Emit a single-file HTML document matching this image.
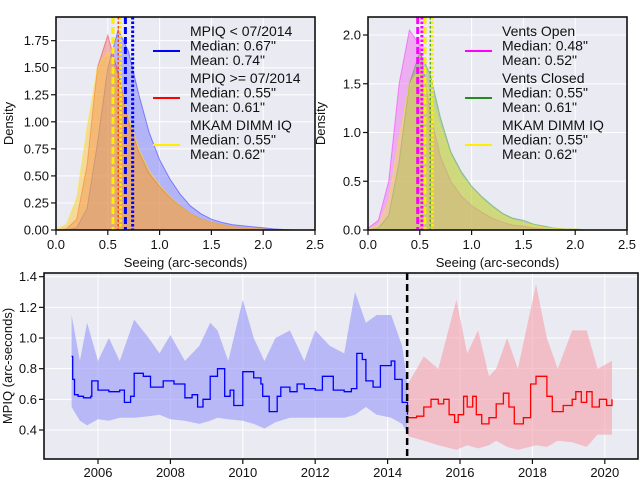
<!DOCTYPE html>
<html><head><meta charset="utf-8">
<style>
body{margin:0;background:#fff;}
svg{display:block;font-family:"Liberation Sans","DejaVu Sans",sans-serif;}
</style></head>
<body>
<svg id="fig" width="640" height="480" viewBox="0 0 640 480" xmlns="http://www.w3.org/2000/svg"></svg>
<script>
// ---------- data: KDE panels (x grid 0..2.5 step 0.1) ----------
const kdeX = [0,0.1,0.2,0.3,0.4,0.5,0.6,0.7,0.8,0.9,1.0,1.1,1.2,1.3,1.4,1.5,1.6,1.7,1.8,1.9,2.0,2.1,2.2,2.3,2.4,2.5];
const mpiqBefore = [0,0,0.02,0.2,0.8,1.5,1.85,1.65,1.25,0.9,0.65,0.47,0.33,0.22,0.15,0.10,0.07,0.05,0.04,0.03,0.02,0.01,0.005,0,0,0];
const mpiqAfter  = [0,0.01,0.1,0.6,1.5,1.8,1.45,1.0,0.72,0.52,0.4,0.3,0.22,0.15,0.1,0.07,0.05,0.03,0.02,0.01,0.01,0,0,0,0,0];
const dimm       = [0.01,0.05,0.3,0.95,1.5,1.65,1.4,1.05,0.75,0.55,0.42,0.31,0.22,0.15,0.1,0.07,0.05,0.03,0.02,0.01,0.01,0,0,0,0,0];
const ventsOpen  = [0.02,0.1,0.5,1.5,2.05,1.9,1.2,0.75,0.5,0.35,0.25,0.18,0.12,0.08,0.05,0.04,0.02,0.01,0,0,0,0,0,0,0,0];
const ventsClosed= [0,0.02,0.15,0.7,1.5,1.82,1.6,1.15,0.8,0.6,0.45,0.34,0.25,0.17,0.12,0.1,0.06,0.04,0.02,0.01,0.01,0,0,0,0,0];
const leftStats  = [[0.67,0.74],[0.55,0.61],[0.55,0.62]];
const rightStats = [[0.48,0.52],[0.55,0.61],[0.55,0.62]];
const leftTicksY = [0,0.25,0.5,0.75,1.0,1.25,1.5,1.75];
const leftTickLbl= ["0.00","0.25","0.50","0.75","1.00","1.25","1.50","1.75"];
const rightTicksY= [0,0.5,1.0,1.5,2.0];
const rightTickLbl=["0.0","0.5","1.0","1.5","2.0"];
const xTicks = [0,0.5,1.0,1.5,2.0,2.5];
const xTickLbl = ["0.0","0.5","1.0","1.5","2.0","2.5"];
// ---------- data: time series ----------
const blueT   = [2005.27,2005.3,2005.35,2005.45,2005.6,2005.8,2005.83,2006.0,2006.3,2006.6,2006.73,2006.9,2007.0,2007.25,2007.45,2007.7,2007.8,2008.1,2008.4,2008.6,2008.75,2008.9,2009.1,2009.3,2009.5,2009.65,2009.75,2009.95,2010.0,2010.3,2010.5,2010.55,2010.73,2010.95,2011.05,2011.3,2011.5,2011.7,2012.0,2012.2,2012.5,2012.8,2013.0,2013.15,2013.3,2013.4,2013.6,2013.8,2014.1,2014.2,2014.4,2014.55];
const blueMed = [0.88,0.73,0.63,0.62,0.61,0.62,0.72,0.66,0.65,0.66,0.58,0.62,0.77,0.75,0.68,0.68,0.72,0.70,0.61,0.63,0.55,0.60,0.75,0.80,0.62,0.66,0.56,0.56,0.78,0.74,0.70,0.62,0.52,0.62,0.68,0.65,0.70,0.67,0.66,0.75,0.66,0.65,0.67,0.90,0.86,0.72,0.68,0.82,0.85,0.73,0.58,0.50];
const blueBandT=[2005.27,2005.5,2005.7,2006.0,2006.3,2006.6,2007.0,2007.4,2007.7,2008.0,2008.4,2008.8,2009.1,2009.3,2009.6,2010.0,2010.3,2010.6,2010.9,2011.3,2011.7,2012.0,2012.4,2012.8,2013.1,2013.4,2013.7,2014.1,2014.4,2014.55];
const blueHi  = [1.15,0.85,1.1,0.85,1.0,0.85,1.12,1.0,0.9,1.02,0.85,0.95,1.1,1.05,0.85,1.25,1.0,0.85,1.0,1.05,0.85,1.05,0.95,0.9,1.3,1.1,1.15,1.15,0.95,0.7];
const blueLo  = [0.55,0.46,0.43,0.47,0.46,0.48,0.48,0.49,0.50,0.47,0.46,0.44,0.46,0.48,0.47,0.46,0.44,0.41,0.45,0.48,0.48,0.48,0.48,0.48,0.50,0.55,0.50,0.48,0.44,0.38];
const redT    = [2014.56,2014.8,2015.0,2015.2,2015.4,2015.55,2015.7,2015.85,2015.95,2016.1,2016.2,2016.35,2016.45,2016.6,2016.8,2017.0,2017.2,2017.35,2017.5,2017.75,2017.95,2018.1,2018.4,2018.55,2018.85,2019.1,2019.2,2019.35,2019.5,2019.65,2019.85,2020.05,2020.2];
const redMed  = [0.48,0.49,0.55,0.60,0.57,0.60,0.50,0.45,0.50,0.62,0.55,0.62,0.50,0.44,0.48,0.57,0.64,0.55,0.44,0.48,0.70,0.75,0.62,0.52,0.56,0.60,0.65,0.58,0.65,0.55,0.60,0.56,0.60];
const redBandT= [2014.56,2015.0,2015.4,2015.9,2016.2,2016.5,2016.8,2017.0,2017.3,2017.6,2018.1,2018.4,2018.7,2019.1,2019.5,2019.8,2020.2];
const redHi   = [0.70,0.88,0.80,1.25,0.90,1.05,0.75,0.80,1.00,0.80,1.35,1.00,0.80,1.05,1.05,0.80,0.85];
const redLo   = [0.36,0.33,0.30,0.27,0.30,0.28,0.30,0.33,0.29,0.27,0.30,0.29,0.33,0.32,0.29,0.37,0.37];
const yearTicks=[2006,2008,2010,2012,2014,2016,2018,2020];
const bottomTicksY=[0.4,0.6,0.8,1.0,1.2,1.4];
const bottomTickLbl=["0.4","0.6","0.8","1.0","1.2","1.4"];
const splitYear = 2014.54;

const NS="http://www.w3.org/2000/svg";
const svg=document.getElementById('fig');
function mk(tag,attrs,parent){const e=document.createElementNS(NS,tag);for(const k in attrs)e.setAttribute(k,attrs[k]);(parent||svg).appendChild(e);return e;}
function txt(s,attrs,parent){const e=mk('text',attrs,parent);e.textContent=s;return e;}

function panel(name,L,R,T,B,ymaxPx0,yScale,series,stats,colors,tickY,tickLbl,legendLabels){
  const g=mk('g',{});
  
  
  const sx=v=>L+(v/2.5)*(R-L);
  const sy=v=>B-v*yScale;
  const bg=mk('rect',{x:L,y:T,width:R-L,height:B-T,fill:'#eaeaf2'},g);
  
  
  xTicks.forEach(t=>{const l=mk('line',{x1:sx(t),x2:sx(t),y1:T,y2:B,stroke:'#fff','stroke-width':1},g);});
  tickY.forEach(t=>{const l=mk('line',{x1:L,x2:R,y1:sy(t),y2:sy(t),stroke:'#fff','stroke-width':1},g);});
  series.forEach((s,i)=>{
    let d='M'+sx(kdeX[0])+','+sy(0);
    kdeX.forEach((x,j)=>{d+=' L'+sx(x).toFixed(1)+','+sy(s[j]).toFixed(1);});
    d+=' L'+sx(kdeX[kdeX.length-1])+','+sy(0)+' Z';
    const p=mk('path',{d:d,fill:colors[i].fill,stroke:colors[i].line,'stroke-opacity':0.4,'stroke-width':1},g);
    
    
  });
  stats.forEach((st,i)=>{
    const a=mk('line',{x1:sx(st[0]),x2:sx(st[0]),y1:T,y2:B,stroke:colors[i].line,'stroke-width':3,'stroke-dasharray':'7,3'},g);
    
    
    const b=mk('line',{x1:sx(st[1]),x2:sx(st[1]),y1:T,y2:B,stroke:colors[i].line,'stroke-width':3,'stroke-dasharray':'2.5,2'},g);
    
    
  });
  const fr=mk('rect',{x:L,y:T,width:R-L,height:B-T,fill:'none',stroke:'#111','stroke-width':1.6},g);
  
  
  tickY.forEach((t,i)=>{
    mk('line',{x1:L-5,x2:L,y1:sy(t),y2:sy(t),stroke:'#111','stroke-width':1.2},g);
    const tl=txt(tickLbl[i],{x:L-7,y:sy(t)+4.5,'font-size':13,'text-anchor':'end',fill:'#111'},g);
    
    
  });
  xTicks.forEach((t,i)=>{
    mk('line',{x1:sx(t),x2:sx(t),y1:B,y2:B+5,stroke:'#111','stroke-width':1.2},g);
    const tl=txt(xTickLbl[i],{x:sx(t),y:B+19,'font-size':13,'text-anchor':'middle',fill:'#111'},g);
    
    
  });
  const xt=txt('Seeing (arc-seconds)',{x:(L+R)/2,y:B+37,'font-size':13,'text-anchor':'middle',fill:'#111'},g);
  
  
  const yt=txt('Density',{x:0,y:0,'font-size':13,'text-anchor':'middle',fill:'#111',transform:`translate(${L-43},${(T+B)/2}) rotate(-90)`},g);
  
  
  legendLabels.forEach((lab,i)=>{
    const y0=T+19+i*47;
    const le=mk('g',{},g);
    
    
    mk('line',{x1:L+97,x2:L+124,y1:y0+15,y2:y0+15,stroke:colors[i].line,'stroke-width':2},le);
    lab.forEach((s,k)=>txt(s,{x:L+134,y:y0+k*14.5,'font-size':14,fill:'#111'},le));
  });
}

panel('left-density-panel',56,315,17,230,0,108.2,[mpiqBefore,mpiqAfter,dimm],leftStats,
 [{fill:'rgba(90,90,255,0.38)',line:'#0000ff'},{fill:'rgba(240,90,90,0.4)',line:'#ff0000'},{fill:'rgba(255,200,40,0.45)',line:'#ffee00'}],
 leftTicksY,leftTickLbl,
 [['MPIQ < 07/2014','Median: 0.67"','Mean: 0.74"'],['MPIQ >= 07/2014','Median: 0.55"','Mean: 0.61"'],['MKAM DIMM IQ','Median: 0.55"','Mean: 0.62"']]);
panel('right-density-panel',368,627,17,230,0,97.5,[ventsOpen,ventsClosed,dimm],rightStats,
 [{fill:'rgba(240,100,240,0.45)',line:'#ff00ff'},{fill:'rgba(110,170,60,0.4)',line:'#228b22'},{fill:'rgba(240,230,60,0.4)',line:'#ffee00'}],
 rightTicksY,rightTickLbl,
 [['Vents Open','Median: 0.48"','Mean: 0.52"'],['Vents Closed','Median: 0.55"','Mean: 0.61"'],['MKAM DIMM IQ','Median: 0.55"','Mean: 0.62"']]);

(function(){
  const L=44,R=638,T=273,B=459;
  const sx=y=>98+(y-2006)*36.2;
  const sy=v=>430-(v-0.4)*153.3;
  const g=mk('g',{});
  
  
  mk('rect',{x:L,y:T,width:R-L,height:B-T,fill:'#eaeaf2'},g);
  yearTicks.forEach(t=>mk('line',{x1:sx(t),x2:sx(t),y1:T,y2:B,stroke:'#fff','stroke-width':1},g));
  bottomTicksY.forEach(t=>mk('line',{x1:L,x2:R,y1:sy(t),y2:sy(t),stroke:'#fff','stroke-width':1},g));
  function band(t,hi,lo,fill,name){
    let d='';
    t.forEach((x,i)=>{d+=(i?' L':'M')+sx(x).toFixed(1)+','+sy(hi[i]).toFixed(1);});
    for(let i=t.length-1;i>=0;i--)d+=' L'+sx(t[i]).toFixed(1)+','+sy(lo[i]).toFixed(1);
    const p=mk('path',{d:d+' Z',fill:fill},g);
    
    
  }
  function step(t,v,color,name){
    let d='M'+sx(t[0]).toFixed(1)+','+sy(v[0]).toFixed(1);
    for(let i=1;i<t.length;i++){d+=' L'+sx(t[i]).toFixed(1)+','+sy(v[i-1]).toFixed(1)+' L'+sx(t[i]).toFixed(1)+','+sy(v[i]).toFixed(1);}
    const p=mk('path',{d:d,fill:'none',stroke:color,'stroke-width':1.3},g);
    
    
  }
  band(blueBandT,blueHi,blueLo,'rgba(150,150,250,0.6)','blue-range-band');
  band(redBandT,redHi,redLo,'rgba(245,160,170,0.6)','red-range-band');
  step(blueT,blueMed,'#0000ff','blue-median-line');
  step(redT,redMed,'#ff0000','red-median-line');
  const dl=mk('line',{x1:sx(splitYear),x2:sx(splitYear),y1:T,y2:B,stroke:'#000','stroke-width':2.5,'stroke-dasharray':'7,4'},g);
  
  
  mk('rect',{x:L,y:T,width:R-L,height:B-T,fill:'none',stroke:'#111','stroke-width':1.6},g);
  bottomTicksY.forEach((t,i)=>{
    mk('line',{x1:L-5,x2:L,y1:sy(t),y2:sy(t),stroke:'#111','stroke-width':1.2},g);
    const tl=txt(bottomTickLbl[i],{x:L-7,y:sy(t)+4.5,'font-size':13,'text-anchor':'end',fill:'#111'},g);
    
    
  });
  yearTicks.forEach(t=>{
    mk('line',{x1:sx(t),x2:sx(t),y1:B,y2:B+5,stroke:'#111','stroke-width':1.2},g);
    const tl=txt(String(t),{x:sx(t),y:B+18,'font-size':13,'text-anchor':'middle',fill:'#111'},g);
    
    
  });
  const yt=txt('MPIQ (arc-seconds)',{x:0,y:0,'font-size':13,'text-anchor':'middle',fill:'#111',transform:`translate(12,${(T+B)/2}) rotate(-90)`},g);
  
  
})();
</script>
</body></html>
